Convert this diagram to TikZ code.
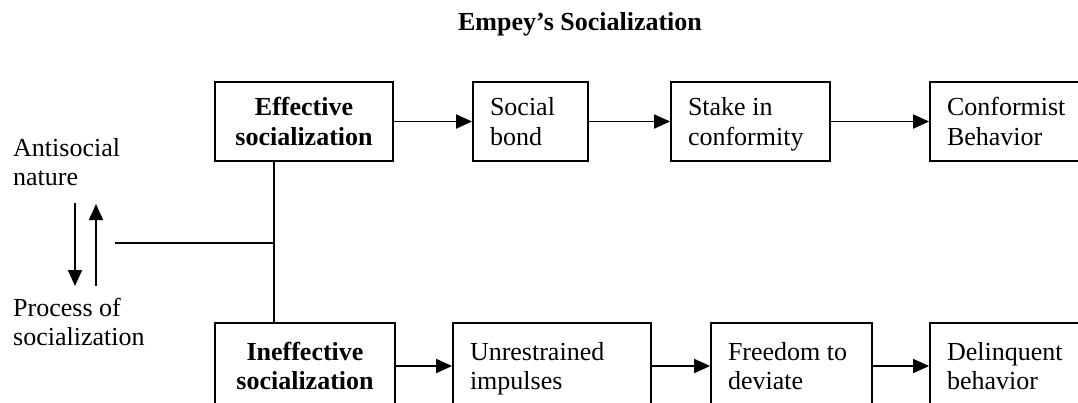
\documentclass[tikz,border=0pt]{standalone}
\usepackage{fontspec}
\setmainfont{Liberation Serif}
\usetikzlibrary{arrows.meta}
\begin{document}
\begin{tikzpicture}[x=1pt,y=-1pt,
  every node/.style={font=\fontsize{26}{29.5}\selectfont},
  box/.style={draw=black,line width=1.8pt,inner sep=0pt,minimum height=79pt,text height=24pt,text depth=36pt},
  lbox/.style={box,align=flush left},
  bbox/.style={box,align=flush center,font=\fontsize{26}{29.5}\selectfont\bfseries},
  conn/.style={line width=1.8pt,-{Triangle[length=16pt,width=14pt]}},
  plain/.style={line width=1.8pt}]
\useasboundingbox (0,0) rectangle (1078,402);
\clip (0,0) rectangle (1078,402);
\node[font=\fontsize{26}{29.5}\selectfont\bfseries] (title) at (580,24) {Empey’s Socialization};
% top row
\node[bbox,minimum width=178pt,text width=170pt] (eff) at (304,121.5) {Effective\\socialization};
\node[lbox,minimum width=115pt,text width=81pt] (bond) at (530.5,121.5) {Social\\bond};
\node[lbox,minimum width=159pt,text width=125pt] (stake) at (750.5,121.5) {Stake in\\conformity};
\node[lbox,minimum width=160pt,text width=126pt] (conf) at (1010,121.5) {Conformist\\Behavior};
% bottom row
\node[bbox,minimum width=180pt,text width=172pt,minimum height=86pt] (ineff) at (305,366) {Ineffective\\socialization};
\node[lbox,minimum width=198pt,text width=164pt,minimum height=86pt] (unr) at (552,366) {Unrestrained\\impulses};
\node[lbox,minimum width=161pt,text width=127pt,minimum height=86pt] (free) at (791.5,366) {Freedom to\\deviate};
\node[lbox,minimum width=160pt,text width=126pt,minimum height=86pt] (delq) at (1010,366) {Delinquent\\behavior};
% left labels
\node[align=flush left,anchor=west,inner sep=0pt] (anti) at (13,162) {Antisocial\\nature};
\node[align=flush left,anchor=west,inner sep=0pt] (proc) at (13,322) {Process of\\socialization};
% arrows
\draw[conn] (eff) -- (bond);
\draw[conn] (bond) -- (stake);
\draw[conn] (stake) -- (conf);
\draw[conn] (ineff.east |- 0,366) -- (unr.west |- 0,366);
\draw[conn] (unr.east |- 0,366) -- (free.west |- 0,366);
\draw[conn] (free.east |- 0,366) -- (delq.west |- 0,366);
% left connectors
\coordinate (dtop) at (75,203);
\coordinate (dbot) at (75,286);
\coordinate (utop) at (96,204);
\coordinate (ubot) at (96,286);
\draw[conn] (dtop) -- (dbot);
\draw[conn] (ubot) -- (utop);
\coordinate (vtop) at (274,161);
\coordinate (junc) at (274,243);
\coordinate (hleft) at (115,243);
\draw[plain] (eff.south -| vtop) -- (ineff.north -| vtop);
\draw[plain] (hleft) -- (junc);
\end{tikzpicture}
\end{document}
